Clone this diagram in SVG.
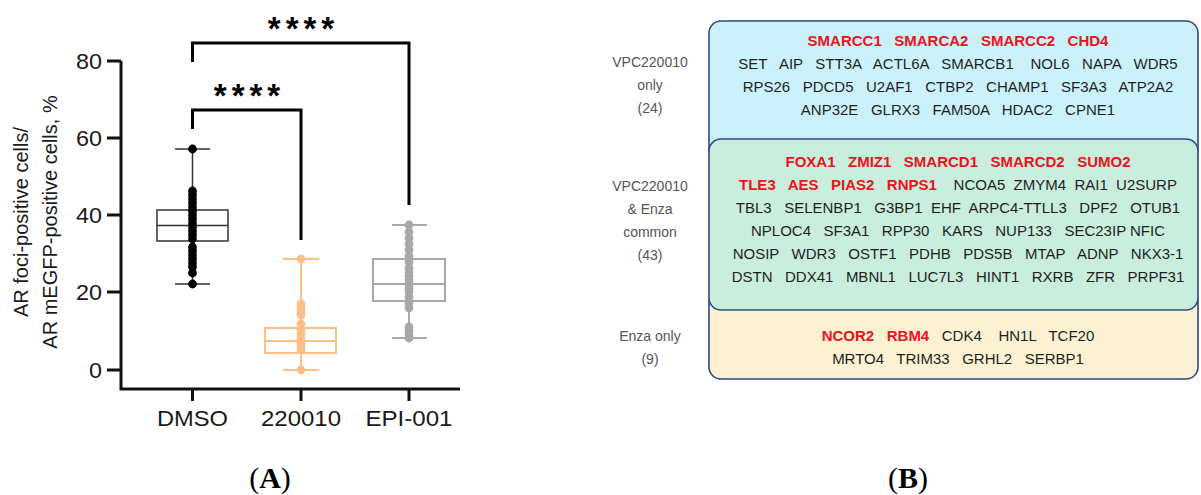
<svg xmlns="http://www.w3.org/2000/svg" width="1201" height="495" viewBox="0 0 1201 495">
<style>
.ax{stroke:#111;stroke-width:3;fill:none}
.brk{stroke:#000;stroke-width:3;fill:none}
.tk{font-family:"Liberation Sans",Arial,sans-serif;font-size:22px;fill:#1a1a1a}
.yt{text-anchor:end}
.xt{text-anchor:middle}
.ttl{font-family:"Liberation Sans",Arial,sans-serif;font-size:20px;fill:#1a1a1a;text-anchor:middle}
.stars{font-family:"Liberation Sans",Arial,sans-serif;font-size:33px;font-weight:bold;fill:#000;text-anchor:middle;letter-spacing:5px}
.wD{stroke:#333;stroke-width:1.5;fill:none}
.bD{stroke:#333;stroke-width:1.5;fill:#fff}
.dD{fill:#000}
.wO{stroke:#FDBF87;stroke-width:2;fill:none}
.bO{stroke:#FDBF87;stroke-width:2;fill:#fff}
.dO{fill:#FDBF87}
.wG{stroke:#A8A8AB;stroke-width:2;fill:none}
.bG{stroke:#A8A8AB;stroke-width:2;fill:#fff}
.dG{fill:#A8A8AB}
.panel{font-family:"Liberation Serif","Times New Roman",serif;font-size:30px;fill:#000;text-anchor:middle}
.set{stroke:#2C4A7E;stroke-width:1.6}
.g{font-family:"Liberation Sans",Arial,sans-serif;font-size:15px;fill:#1e1e1e;text-anchor:middle}
.r{fill:#E8141C;font-weight:bold}
.lab{font-family:"Liberation Sans",Arial,sans-serif;font-size:14px;fill:#555;text-anchor:middle}
</style>

<g id="chartA">
  <g id="axes">
    <path class="ax" d="M121,61 V389 H460"/>
    <path class="ax" d="M107,61 H121 M107,138 H121 M107,215 H121 M107,292 H121 M107,370 H121"/>
    <path class="ax" d="M192.5,389 V401 M301,389 V401 M409,389 V401"/>
    <text class="tk yt" x="102" y="69" textLength="26" lengthAdjust="spacingAndGlyphs">80</text>
    <text class="tk yt" x="102" y="146" textLength="26" lengthAdjust="spacingAndGlyphs">60</text>
    <text class="tk yt" x="102" y="223" textLength="26" lengthAdjust="spacingAndGlyphs">40</text>
    <text class="tk yt" x="102" y="300" textLength="26" lengthAdjust="spacingAndGlyphs">20</text>
    <text class="tk yt" x="102" y="378" textLength="13" lengthAdjust="spacingAndGlyphs">0</text>
    <text class="tk xt" x="192.5" y="426" textLength="71" lengthAdjust="spacingAndGlyphs">DMSO</text>
    <text class="tk xt" x="301" y="426" textLength="80" lengthAdjust="spacingAndGlyphs">220010</text>
    <text class="tk xt" x="409" y="426" textLength="87" lengthAdjust="spacingAndGlyphs">EPI-001</text>
    <text class="ttl" transform="translate(28,222) rotate(-90)">AR foci-positive cells/</text>
    <text class="ttl" transform="translate(57,222) rotate(-90)">AR mEGFP-positive cells, %</text>
  </g>

  <g id="box-DMSO">
    <path class="wD" d="M192.5,149 V284 M175,149 H210 M175,284 H210"/>
    <rect class="bD" x="157" y="210" width="71" height="31"/>
    <path class="wD" d="M157,225.5 H228"/>
    <g class="dD">
      <circle cx="192.5" cy="149" r="4.4"/>
      <circle cx="192.5" cy="191" r="4.4"/><circle cx="192.5" cy="195" r="4.4"/><circle cx="192.5" cy="199" r="4.4"/>
      <circle cx="192.5" cy="203" r="4.4"/><circle cx="192.5" cy="207" r="4.4"/><circle cx="192.5" cy="211" r="4.4"/>
      <circle cx="192.5" cy="215" r="4.4"/><circle cx="192.5" cy="219" r="4.4"/><circle cx="192.5" cy="223" r="4.4"/>
      <circle cx="192.5" cy="227" r="4.4"/><circle cx="192.5" cy="231" r="4.4"/><circle cx="192.5" cy="235" r="4.4"/>
      <circle cx="192.5" cy="239" r="4.4"/><circle cx="192.5" cy="247" r="4.4"/><circle cx="192.5" cy="251" r="4.4"/>
      <circle cx="192.5" cy="255" r="4.4"/><circle cx="192.5" cy="259" r="4.4"/><circle cx="192.5" cy="263" r="4.4"/>
      <circle cx="192.5" cy="267" r="4.4"/><circle cx="192.5" cy="273" r="4.4"/><circle cx="192.5" cy="284" r="4.4"/>
    </g>
  </g>

  <g id="box-220010">
    <path class="wO" d="M301,259 V370 M283,259 H319 M283,370 H319"/>
    <rect class="bO" x="265" y="328" width="71" height="25"/>
    <path class="wO" d="M265,341 H336"/>
    <g class="dO">
      <circle cx="301" cy="259" r="4.4"/>
      <circle cx="301" cy="304" r="4.4"/><circle cx="301" cy="308" r="4.4"/><circle cx="301" cy="312" r="4.4"/><circle cx="301" cy="315" r="4.4"/>
      <circle cx="301" cy="324" r="4.4"/><circle cx="301" cy="330" r="4.4"/><circle cx="301" cy="334" r="4.4"/>
      <circle cx="301" cy="338" r="4.4"/><circle cx="301" cy="342" r="4.4"/><circle cx="301" cy="346" r="4.4"/>
      <circle cx="301" cy="350" r="4.4"/><circle cx="301" cy="370" r="4.4"/>
    </g>
  </g>

  <g id="box-EPI001">
    <path class="wG" d="M409,225 V338 M392,225 H427 M392,338 H427"/>
    <rect class="bG" x="373" y="259" width="72" height="42"/>
    <path class="wG" d="M373,284 H445"/>
    <g class="dG">
      <circle cx="409" cy="225" r="4.4"/><circle cx="409" cy="232" r="4.4"/><circle cx="409" cy="238" r="4.4"/>
      <circle cx="409" cy="244" r="4.4"/><circle cx="409" cy="250" r="4.4"/><circle cx="409" cy="256" r="4.4"/>
      <circle cx="409" cy="262" r="4.4"/><circle cx="409" cy="268" r="4.4"/><circle cx="409" cy="272" r="4.4"/>
      <circle cx="409" cy="276" r="4.4"/><circle cx="409" cy="280" r="4.4"/><circle cx="409" cy="284" r="4.4"/>
      <circle cx="409" cy="288" r="4.4"/><circle cx="409" cy="292" r="4.4"/><circle cx="409" cy="297" r="4.4"/>
      <circle cx="409" cy="303" r="4.4"/><circle cx="409" cy="308" r="4.4"/><circle cx="409" cy="327" r="4.4"/>
      <circle cx="409" cy="331" r="4.4"/><circle cx="409" cy="335" r="4.4"/><circle cx="409" cy="338" r="4.4"/>
    </g>
  </g>

  <g id="connectors">
    <path class="brk" d="M192.5,62 V43 H409 V205"/>
    <path class="brk" d="M192.5,129 V110 H301 V240"/>
    <text class="stars" x="303.5" y="40">****</text>
    <text class="stars" x="249.5" y="107">****</text>
  </g>

  <text class="panel" x="270" y="488">(<tspan font-weight="bold">A</tspan>)</text>
</g>

<g id="panelB">
  <g id="set-vpc-only">
    <rect class="set" x="709" y="21" width="489" height="140" rx="12" fill="#CBF2FA"/>
  </g>
  <g id="set-enza-only">
    <rect class="set" x="709" y="290" width="489" height="89" rx="12" fill="#FCF2D3"/>
  </g>
  <g id="set-common">
    <rect class="set" x="709" y="139" width="489" height="171" rx="12" fill="#CAEEDD"/>
  </g>

  <g id="text-vpc-only">
    <text class="lab" x="650" y="67">VPC220010</text>
    <text class="lab" x="650" y="90">only</text>
    <text class="lab" x="650" y="113">(24)</text>
    <text class="g r" x="958" y="46" xml:space="preserve">SMARCC1   SMARCA2   SMARCC2   CHD4</text>
    <text class="g" x="958" y="69" xml:space="preserve">SET   AIP   STT3A   ACTL6A   SMARCB1    NOL6   NAPA   WDR5</text>
    <text class="g" x="958" y="92" xml:space="preserve">RPS26   PDCD5   U2AF1   CTBP2   CHAMP1   SF3A3   ATP2A2</text>
    <text class="g" x="958" y="115" xml:space="preserve">ANP32E   GLRX3   FAM50A   HDAC2   CPNE1</text>
  </g>

  <g id="text-common">
    <text class="lab" x="650" y="191">VPC220010</text>
    <text class="lab" x="650" y="214">&amp; Enza</text>
    <text class="lab" x="650" y="237">common</text>
    <text class="lab" x="650" y="260">(43)</text>
    <text class="g r" x="958" y="167" xml:space="preserve">FOXA1   ZMIZ1   SMARCD1   SMARCD2   SUMO2</text>
    <text class="g" x="958" y="190" xml:space="preserve"><tspan class="r">TLE3   AES   PIAS2   RNPS1</tspan>    NCOA5  ZMYM4  RAI1  U2SURP</text>
    <text class="g" x="958" y="213" xml:space="preserve">TBL3   SELENBP1   G3BP1  EHF  ARPC4-TTLL3   DPF2   OTUB1</text>
    <text class="g" x="958" y="236" xml:space="preserve">NPLOC4   SF3A1   RPP30   KARS   NUP133   SEC23IP NFIC</text>
    <text class="g" x="958" y="259" xml:space="preserve">NOSIP   WDR3   OSTF1   PDHB   PDS5B   MTAP   ADNP   NKX3-1</text>
    <text class="g" x="958" y="282" xml:space="preserve">DSTN   DDX41   MBNL1   LUC7L3   HINT1   RXRB   ZFR   PRPF31</text>
  </g>

  <g id="text-enza-only">
    <text class="lab" x="650" y="341">Enza only</text>
    <text class="lab" x="650" y="364">(9)</text>
    <text class="g" x="958" y="341" xml:space="preserve"><tspan class="r">NCOR2   RBM4</tspan>   CDK4    HN1L   TCF20</text>
    <text class="g" x="958" y="364" xml:space="preserve">MRTO4   TRIM33   GRHL2   SERBP1</text>
  </g>

  <text class="panel" x="908" y="488">(<tspan font-weight="bold">B</tspan>)</text>
</g>
</svg>
